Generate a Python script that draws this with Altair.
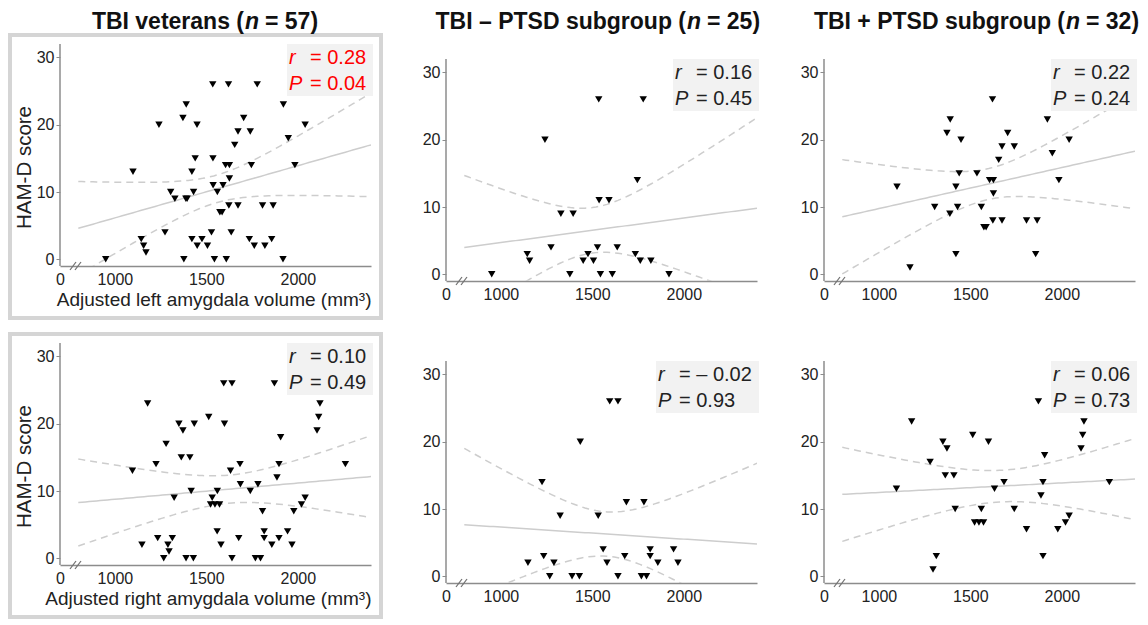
import altair as alt
import numpy as np
import pandas as pd

# ---------------- data ----------------
# Left amygdala, TBI - PTSD subgroup
left_neg_x = [950, 1144, 1157, 1241, 1274, 1328, 1377, 1395, 1450, 1476, 1506, 1528,
              1535, 1537, 1544, 1591, 1609, 1636, 1735, 1746, 1762, 1778, 1820, 1919]
left_neg_y = [0, 3, 2, 20, 4, 9, 0, 9, 2, 3, 2, 4, 26, 11, 0, 11, 0, 4, 3, 14, 2, 26, 2, 0]

# Left amygdala, TBI + PTSD subgroup
left_pos_x = [1099, 1170, 1305, 1372, 1390, 1388, 1421, 1421, 1430, 1439, 1449, 1536,
              1560, 1574, 1586, 1605, 1621, 1626, 1626, 1623, 1655, 1673, 1673, 1704,
              1740, 1807, 1865, 1857, 1921, 1948, 1984, 2040]
left_pos_y = [13, 1, 10, 21, 23, 9, 13, 3, 10, 15, 20, 15, 10, 7, 7, 14, 26, 14, 12, 8,
              17, 19, 8, 21, 19, 8, 8, 3, 23, 18, 14, 20]

# Right amygdala, TBI - PTSD subgroup
right_neg_x = [1148, 1234, 1225, 1267, 1290, 1324, 1389, 1429, 1434, 1532, 1559, 1580,
               1595, 1640, 1640, 1677, 1686, 1768, 1782, 1796, 1816, 1816, 1858, 1944, 1968]
right_neg_y = [2, 3, 14, 0, 2, 9, 0, 0, 20, 9, 4, 2, 26, 26, 0, 3, 11, 0, 11, 0, 4, 3, 2, 4, 2]

# Right amygdala, TBI + PTSD subgroup
right_pos_x = [1096, 1179, 1280, 1296, 1314, 1350, 1363, 1372, 1410, 1417, 1513, 1523,
               1547, 1560, 1572, 1599, 1632, 1684, 1740, 1807, 1872, 1886, 1897, 1906,
               1897, 1978, 2020, 2040, 2105, 2114, 2121, 2260]
right_pos_y = [13, 23, 17, 1, 3, 20, 15, 19, 15, 10, 21, 8, 8, 10, 8, 20, 13, 14, 10, 7,
               26, 12, 14, 18, 3, 7, 8, 9, 19, 21, 23, 14]

r_texts = ["= 0.28", "= 0.16", "= 0.22", "= 0.10", "= \u2013 0.02", "= 0.06"]
p_texts = ["= 0.04", "= 0.45", "= 0.24", "= 0.49", "= 0.93", "= 0.73"]
title_left = ["TBI veterans (", "TBI \u2013 PTSD subgroup (", "TBI + PTSD subgroup ("]
title_right = ["= 57)", "= 25)", "= 32)"]
x_titles = ["Adjusted left amygdala volume (mm\u00b3)", "Adjusted right amygdala volume (mm\u00b3)"]
y_title = "HAM-D score"
x_tick_values = [700, 1000, 1500, 2000]
y_tick_values = [0, 10, 20, 30]

# t critical values (two-sided 95%) by degrees of freedom
TCRIT = {22: 2.074, 23: 2.069, 30: 2.042, 54: 2.005, 55: 2.004}

# ---------------- style / layout ----------------
W, H = 311, 222
XDOM = [700, 2400]
Y0, Y1 = -1, 32
FONT = "Liberation Sans"
GRAY = "#8c8c8c"
LINEC = "#cdcdcd"
TXT = "#222222"
ONE = pd.DataFrame({"k": [0]})


def fit_frame(xs, ys):
    x = np.asarray(xs, float)
    y = np.asarray(ys, float)
    n = len(x)
    b, a = np.polyfit(x, y, 1)
    res = y - (a + b * x)
    s = np.sqrt((res ** 2).sum() / (n - 2))
    sxx = ((x - x.mean()) ** 2).sum()
    g = np.linspace(800, 2400, 81)
    yhat = a + b * g
    se = s * np.sqrt(1.0 / n + (g - x.mean()) ** 2 / sxx)
    t = TCRIT[n - 2]
    return pd.DataFrame({"x": g, "fit": yhat, "lo": yhat - t * se, "hi": yhat + t * se})


def xenc(xt):
    return alt.X("x:Q", title=xt,
                 scale=alt.Scale(domain=XDOM, nice=False, zero=False),
                 axis=alt.Axis(values=x_tick_values, format="d",
                               labelExpr="datum.value == 700 ? '0' : datum.label",
                               ticks=False, labelFlush=False, labelPadding=5,
                               titlePadding=3, titleAnchor="end"))


def yenc(field, yt, ytop):
    return alt.Y(f"{field}:Q", title=yt,
                 scale=alt.Scale(domain=[Y0, ytop], nice=False, zero=False),
                 axis=alt.Axis(values=y_tick_values, tickSize=4, tickColor=GRAY,
                               tickWidth=1, labelPadding=2, titlePadding=2,
                               titleY=H / 2 + 12, domain=False))


def txt(text, x, y, **kw):
    return alt.Chart(ONE).mark_text(text=text, font=FONT, **kw).encode(
        x=alt.value(x), y=alt.value(y))


def panel(xs, ys, r_str, p_str, color, title_idx, n_x, xt, yt, framed, extra):
    # extra: empty band (px) above the visible y axis, so the panel sits lower
    Ht = H + extra
    ytop = Y1 + extra * (Y1 - Y0) / H
    pts = pd.DataFrame({"x": xs, "y": ys})
    fr = fit_frame(xs, ys)
    band = fr.melt(id_vars="x", value_vars=["lo", "hi"], var_name="b", value_name="y")

    layers = []
    if framed:
        layers.append(alt.Chart(ONE).mark_rect(fillOpacity=0, stroke="#d5d5d5",
                                               strokeWidth=4).encode(
            x=alt.value(-50), x2=alt.value(W + 10),
            y=alt.value(-9), y2=alt.value(H + 52)))

    layers.append(alt.Chart(band).mark_line(color=LINEC, strokeWidth=1.5,
                                            strokeDash=[7, 5], clip=True).encode(
        x=xenc(xt), y=yenc("y", yt, ytop), detail="b:N"))
    layers.append(alt.Chart(fr).mark_line(color=LINEC, strokeWidth=1.5, clip=True).encode(
        x=xenc(xt), y=yenc("fit", yt, ytop)))
    layers.append(alt.Chart(pts).mark_point(shape="triangle-down", filled=True, size=55,
                                            color="black", opacity=1).encode(
        x=xenc(xt), y=yenc("y", yt, ytop)))

    # visible y axis line
    layers.append(alt.Chart(ONE).mark_rule(color=GRAY, strokeWidth=1.5).encode(
        x=alt.value(0), y=alt.value(extra), y2=alt.value(Ht)))

    # axis break marks
    for bx in (10, 15):
        layers.append(alt.Chart(ONE).mark_rule(color="#707070", strokeWidth=1.2).encode(
            x=alt.value(bx), x2=alt.value(bx + 6),
            y=alt.value(Ht + 4), y2=alt.value(Ht - 4)))

    # statistics box
    box_w = 101 if "\u2013" in r_str else 84
    bl = W - box_w
    layers.append(alt.Chart(ONE).mark_rect(color="#f2f2f2").encode(
        x=alt.value(bl), x2=alt.value(W + 2),
        y=alt.value(extra), y2=alt.value(extra + 52)))
    layers.append(txt("r", bl + 2, extra + 14, fontSize=20, fontStyle="italic",
                      align="left", baseline="middle", color=color))
    layers.append(txt("P", bl + 2, extra + 40, fontSize=20, fontStyle="italic",
                      align="left", baseline="middle", color=color))
    layers.append(txt(r_str, bl + 23, extra + 14, fontSize=20, align="left",
                      baseline="middle", color=color))
    layers.append(txt(p_str, bl + 23, extra + 40, fontSize=20, align="left",
                      baseline="middle", color=color))

    if title_idx is not None:
        ty = -22
        layers.append(txt(title_left[title_idx], n_x - 1, ty, fontSize=23,
                          fontWeight="bold", align="right", baseline="middle", color="#111111"))
        layers.append(txt("n", n_x, ty, fontSize=23, fontWeight="bold",
                          fontStyle="italic", align="left", baseline="middle", color="#111111"))
        layers.append(txt(title_right[title_idx], n_x + 20, ty, fontSize=23,
                          fontWeight="bold", align="left", baseline="middle", color="#111111"))

    return alt.layer(*layers).properties(width=W, height=Ht)


RED = "#ff0000"
all_left_x = left_neg_x + left_pos_x
all_left_y = left_neg_y + left_pos_y
all_right_x = right_neg_x + right_pos_x
all_right_y = right_neg_y + right_pos_y

p1 = panel(all_left_x, all_left_y, r_texts[0], p_texts[0], RED, 0, 185,
           x_titles[0], y_title, True, 0)
p2 = panel(left_neg_x, left_neg_y, r_texts[1], p_texts[1], TXT, 1, 241,
           None, None, False, 15)
p3 = panel(left_pos_x, left_pos_y, r_texts[2], p_texts[2], TXT, 2, 242,
           None, None, False, 15)
p4 = panel(all_right_x, all_right_y, r_texts[3], p_texts[3], TXT, None, 0,
           x_titles[1], y_title, True, 0)
p5 = panel(right_neg_x, right_neg_y, r_texts[4], p_texts[4], TXT, None, 0,
           None, None, False, 18)
p6 = panel(right_pos_x, right_pos_y, r_texts[5], p_texts[5], TXT, None, 0,
           None, None, False, 18)

chart = alt.concat(p1, p2, p3, p4, p5, p6, columns=3, align="each",
                   spacing={"row": 12, "column": 39},
                   padding={"left": 0, "top": 3, "right": 0, "bottom": 0}).configure_axis(
    grid=False, domainColor=GRAY, domainWidth=1.5,
    labelFont=FONT, labelFontSize=16, labelColor=TXT,
    titleFont=FONT, titleFontWeight="normal", titleColor=TXT,
).configure_axisX(titleFontSize=19).configure_axisY(titleFontSize=20.5).configure_view(
    strokeWidth=0)

chart.save("out.html", embed_options={"renderer": "svg", "actions": False})
